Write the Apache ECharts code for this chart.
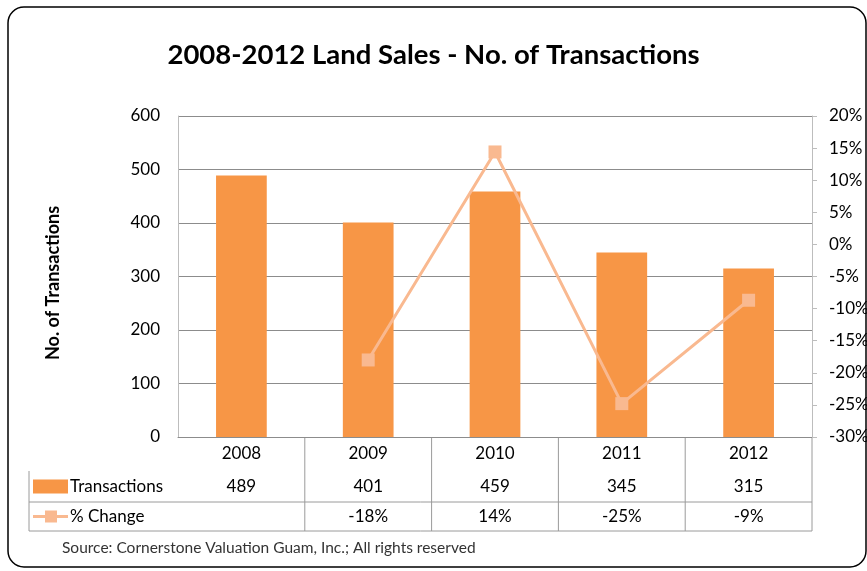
<!DOCTYPE html>
<html>
  <head>
    <meta charset="utf-8" />
    <title>Land Sales</title>
    <script src="https://cdn.jsdelivr.net/npm/echarts@6/dist/echarts.min.js"></script>
    <style>
      body { margin: 0; background: #fff; }
    </style>
  </head>
  <body>
    <div id="main" style="width: 867px;height:571px;"></div>
    <script type="text/javascript">
      // data
      var years = ['2008', '2009', '2010', '2011', '2012'];
      var transactions = [489, 401, 459, 345, 315];
      var pctChange = [null, -18, 14.4, -24.8, -8.7];
      var pctLabels = ['', '-18%', '14%', '-25%', '-9%'];

      var barColor = '#F79646';
      var lineColor = '#F9B990';
      var gridColor = '#8c8c8c';
      var font = 'Lato';

      var myChart = echarts.init(document.getElementById('main'));

      var option = {
        animation: false,
        textStyle: { fontFamily: font },
        title: {
          text: '2008-2012 Land Sales - No. of Transactions',
          left: 'center',
          top: 36,
          textStyle: { fontFamily: font, fontSize: 27.5, fontWeight: 'bold', color: '#000' }
        },
        grid: { left: 178, right: 55, top: 116, bottom: 134, outerBoundsMode: 'none', containLabel: false },
        xAxis: {
          type: 'category',
          data: years,
          axisLine: { lineStyle: { color: gridColor } },
          axisTick: { show: false },
          axisLabel: { color: '#000', fontSize: 17, margin: 8 }
        },
        yAxis: [
          {
            type: 'value',
            min: 0,
            max: 600,
            interval: 100,
            axisLine: { show: true, lineStyle: { color: '#bdbdbd' } },
            axisTick: { show: false },
            axisLabel: { color: '#000', fontSize: 17, margin: 18 },
            splitLine: { lineStyle: { color: gridColor } }
          },
          {
            type: 'value',
            min: -30,
            max: 20,
            interval: 5,
            position: 'right',
            axisLine: { show: true, lineStyle: { color: '#bdbdbd' } },
            axisTick: { show: true, length: 5, lineStyle: { color: '#bdbdbd' } },
            axisLabel: { color: '#000', fontSize: 17, margin: 17, formatter: '{value}%' },
            splitLine: { show: false }
          }
        ],
        series: [
          {
            name: 'Transactions',
            type: 'bar',
            data: transactions,
            barWidth: '40%',
            itemStyle: { color: barColor }
          },
          {
            name: '% Change',
            type: 'line',
            yAxisIndex: 1,
            data: pctChange,
            symbol: 'rect',
            symbolSize: 13,
            lineStyle: { color: lineColor, width: 3 },
            itemStyle: { color: lineColor }
          }
        ]
      };

      myChart.setOption(option);

      // data table under the x axis
      var x0 = 29;
      var xRight = myChart.convertToPixel({ xAxisIndex: 0 }, years[years.length - 1]);
      var step = myChart.convertToPixel({ xAxisIndex: 0 }, years[1]) - myChart.convertToPixel({ xAxisIndex: 0 }, years[0]);
      var yAxisPx = myChart.convertToPixel({ yAxisIndex: 0 }, 0);
      var row1 = yAxisPx + 34, row2 = row1 + 31, row3 = row2 + 29;
      var tableLine = { stroke: '#9a9a9a', lineWidth: 1 };
      var cellFont = '17px ' + font;
      var g = [];
      var rightEdge = xRight + step / 2;
      g.push({ type: 'line', shape: { x1: x0, y1: row2, x2: rightEdge, y2: row2 }, style: tableLine });
      g.push({ type: 'line', shape: { x1: x0, y1: row3, x2: rightEdge, y2: row3 }, style: tableLine });
      g.push({ type: 'line', shape: { x1: x0, y1: row1, x2: x0, y2: row3 }, style: tableLine });
      years.forEach(function (y, i) {
        var cx = myChart.convertToPixel({ xAxisIndex: 0 }, y);
        g.push({ type: 'line', shape: { x1: cx + step / 2, y1: yAxisPx, x2: cx + step / 2, y2: row3 }, style: tableLine });
        g.push({ type: 'text', x: cx, y: (row1 + row2) / 2, style: { text: String(transactions[i]), font: cellFont, fill: '#000', align: 'center', verticalAlign: 'middle' } });
        g.push({ type: 'text', x: cx, y: (row2 + row3) / 2, style: { text: pctLabels[i], font: cellFont, fill: '#000', align: 'center', verticalAlign: 'middle' } });
      });
      // legend keys
      g.push({ type: 'rect', shape: { x: 33, y: (row1 + row2) / 2 - 7, width: 35, height: 14 }, style: { fill: barColor } });
      g.push({ type: 'text', x: 70, y: (row1 + row2) / 2, style: { text: 'Transactions', font: cellFont, fill: '#000', verticalAlign: 'middle' } });
      g.push({ type: 'line', shape: { x1: 33, y1: (row2 + row3) / 2, x2: 68, y2: (row2 + row3) / 2 }, style: { stroke: lineColor, lineWidth: 3 } });
      g.push({ type: 'rect', shape: { x: 45, y: (row2 + row3) / 2 - 6, width: 12, height: 12 }, style: { fill: lineColor } });
      g.push({ type: 'text', x: 70, y: (row2 + row3) / 2, style: { text: '% Change', font: cellFont, fill: '#000', verticalAlign: 'middle' } });
      // y axis title
      g.push({ type: 'text', x: 53, y: 283, rotation: Math.PI / 2, style: { text: 'No. of Transactions', font: 'bold 18px ' + font, fill: '#000', align: 'center', verticalAlign: 'middle' } });
      // source note and outer frame
      g.push({ type: 'text', x: 62, y: 548, style: { text: 'Source: Cornerstone Valuation Guam, Inc.; All rights reserved', font: '15.5px ' + font, fill: '#333', verticalAlign: 'middle' } });
      g.push({ type: 'rect', shape: { x: 8, y: 7, width: 858, height: 560, r: 16 }, style: { fill: 'none', stroke: '#000', lineWidth: 1.5 } });

      myChart.setOption({ graphic: g });
    </script>
  </body>
</html>
